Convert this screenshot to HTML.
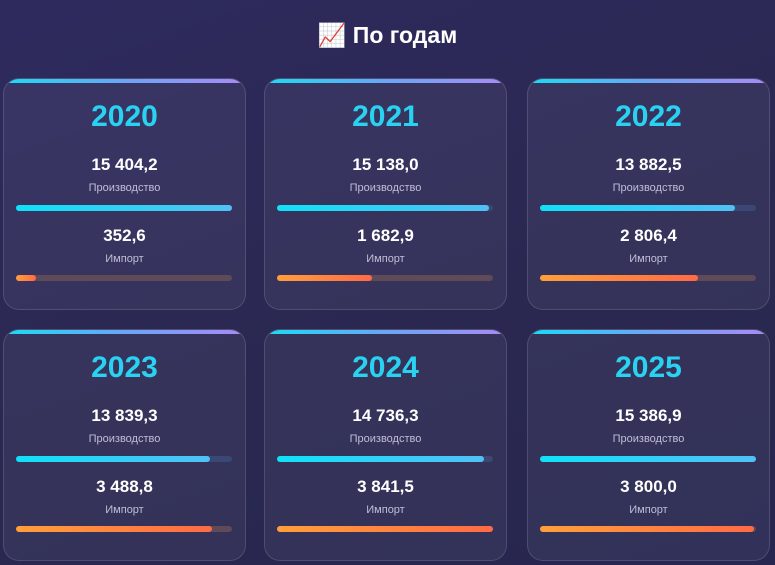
<!DOCTYPE html>
<html><head><meta charset="utf-8"><style>
*{margin:0;padding:0;box-sizing:border-box}
body{width:775px;height:565px;overflow:hidden;background:linear-gradient(160deg,#2e2a5e,#2a2850 60%,#272650);font-family:"Liberation Sans","DejaVu Sans",sans-serif;color:#fff;position:relative}
h1{position:absolute;top:22px;left:0;width:775px;text-align:center;font-size:23px;font-weight:bold}
.card{position:absolute;width:243px;height:232px;border-radius:16px;background:rgba(255,255,255,0.055);border:1px solid rgba(255,255,255,0.13);overflow:hidden}
.card:before{content:"";position:absolute;top:0;left:0;right:0;height:4px;background:linear-gradient(90deg,#19dcf5,#6aa6f5,#a98af5)}
.y{position:absolute;top:21px;width:100%;text-align:center;font-size:30px;font-weight:bold;color:#2ad2f2}
.v{position:absolute;width:100%;text-align:center;font-size:17px;font-weight:bold}
.l{position:absolute;width:100%;text-align:center;font-size:11px;color:#c0bdd8}
.t{position:absolute;left:12px;width:216px;height:6px;border-radius:3px}
.t i{display:block;height:6px;border-radius:3px}
.p{background:#3a4873}.p i{background:linear-gradient(90deg,#0fe2f8,#52c0f5)}
.m{background:#5e4b57}.m i{background:linear-gradient(90deg,#ff9f3a,#ff6a45)}
</style></head><body>
<h1>📈 По годам</h1>
<div class="card" style="left:3px;top:78px"><div class="y">2020</div><div class="v" style="top:76px">15 404,2</div><div class="l" style="top:103px">Производство</div><div class="t p" style="top:126px"><i style="width:100%"></i></div><div class="v" style="top:147px">352,6</div><div class="l" style="top:174px">Импорт</div><div class="t m" style="top:196px"><i style="width:9.2%"></i></div></div>
<div class="card" style="left:264px;top:78px"><div class="y">2021</div><div class="v" style="top:76px">15 138,0</div><div class="l" style="top:103px">Производство</div><div class="t p" style="top:126px"><i style="width:98.3%"></i></div><div class="v" style="top:147px">1 682,9</div><div class="l" style="top:174px">Импорт</div><div class="t m" style="top:196px"><i style="width:43.8%"></i></div></div>
<div class="card" style="left:527px;top:78px"><div class="y">2022</div><div class="v" style="top:76px">13 882,5</div><div class="l" style="top:103px">Производство</div><div class="t p" style="top:126px"><i style="width:90.1%"></i></div><div class="v" style="top:147px">2 806,4</div><div class="l" style="top:174px">Импорт</div><div class="t m" style="top:196px"><i style="width:73%"></i></div></div>
<div class="card" style="left:3px;top:329px"><div class="y">2023</div><div class="v" style="top:76px">13 839,3</div><div class="l" style="top:103px">Производство</div><div class="t p" style="top:126px"><i style="width:89.8%"></i></div><div class="v" style="top:147px">3 488,8</div><div class="l" style="top:174px">Импорт</div><div class="t m" style="top:196px"><i style="width:90.8%"></i></div></div>
<div class="card" style="left:264px;top:329px"><div class="y">2024</div><div class="v" style="top:76px">14 736,3</div><div class="l" style="top:103px">Производство</div><div class="t p" style="top:126px"><i style="width:95.7%"></i></div><div class="v" style="top:147px">3 841,5</div><div class="l" style="top:174px">Импорт</div><div class="t m" style="top:196px"><i style="width:100%"></i></div></div>
<div class="card" style="left:527px;top:329px"><div class="y">2025</div><div class="v" style="top:76px">15 386,9</div><div class="l" style="top:103px">Производство</div><div class="t p" style="top:126px"><i style="width:99.9%"></i></div><div class="v" style="top:147px">3 800,0</div><div class="l" style="top:174px">Импорт</div><div class="t m" style="top:196px"><i style="width:98.9%"></i></div></div>
</body></html>
